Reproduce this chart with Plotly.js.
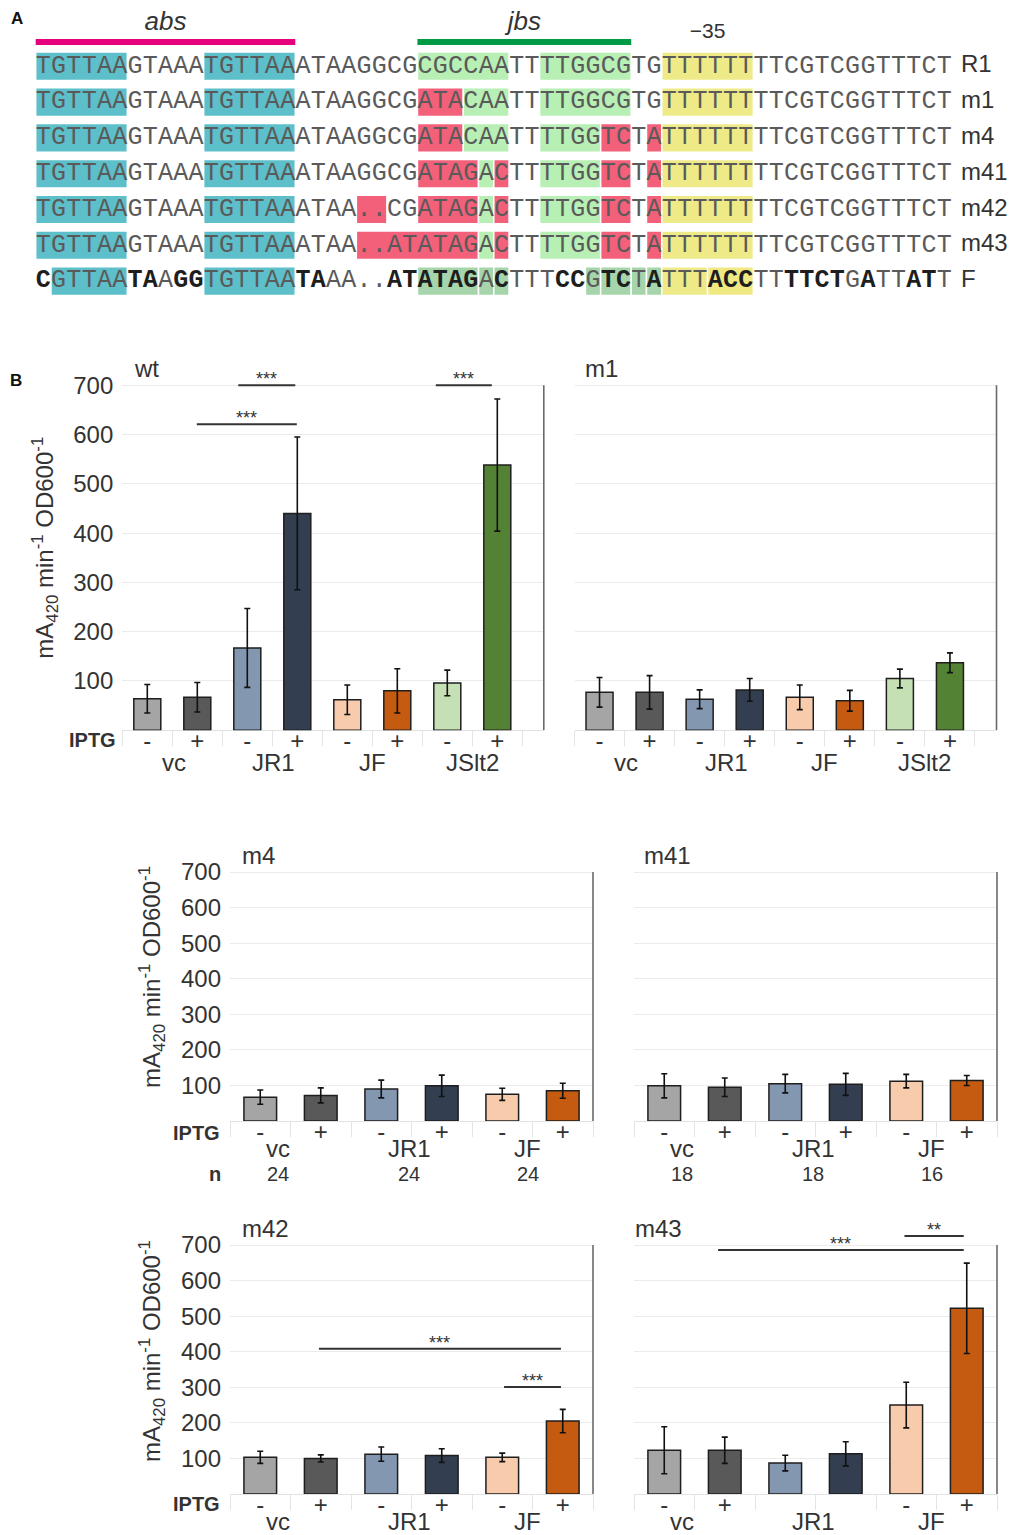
<!DOCTYPE html>
<html><head><meta charset="utf-8">
<script src="https://cdn.plot.ly/plotly-3.0.1.min.js"></script>
<style>html,body{margin:0;padding:0;background:#fff}</style>
</head><body>
<div id="chart" style="width:1016px;height:1535px"></div>
<script>
// ---------------- Panel A data ----------------
const seqNames = ['R1','m1','m4','m41','m42','m43','F'];
const sequences = [
 'TGTTAAGTAAATGTTAAATAAGGCGCGCCAATTTTGGCGTGTTTTTTTTCGTCGGTTTCT',
 'TGTTAAGTAAATGTTAAATAAGGCGATACAATTTTGGCGTGTTTTTTTTCGTCGGTTTCT',
 'TGTTAAGTAAATGTTAAATAAGGCGATACAATTTTGGTCTATTTTTTTTCGTCGGTTTCT',
 'TGTTAAGTAAATGTTAAATAAGGCGATAGACTTTTGGTCTATTTTTTTTCGTCGGTTTCT',
 'TGTTAAGTAAATGTTAAATAA..CGATAGACTTTTGGTCTATTTTTTTTCGTCGGTTTCT',
 'TGTTAAGTAAATGTTAAATAA..ATATAGACTTTTGGTCTATTTTTTTTCGTCGGTTTCT',
 'CGTTAATAAGGTGTTAATAAA..ATATAGACTTTCCGTCTATTTACCTTTTCTGATTATT'
];
// highlight class per base (c=abs box, g=jbs box, r=mutated, y=-35, d/D=F jbs match, Y=F -35 match)
const highlightCodes = [
 'cccccc.....cccccc........gggggg..gggggg..yyyyyy.............',
 'cccccc.....cccccc........rrrggg..gggggg..yyyyyy.............',
 'cccccc.....cccccc........rrrggg..ggggrr.ryyyyyy.............',
 'cccccc.....cccccc........rrrrgr..ggggrr.ryyyyyy.............',
 'cccccc.....cccccc....rr..rrrrgr..ggggrr.ryyyyyy.............',
 'cccccc.....cccccc....rrrrrrrrgr..ggggrr.ryyyyyy.............',
 '.ccccc.....cccccc........ddddDd.....DddDdyyyYYY.............'
];
// bold bases in F (identical to consensus)
const boldMaskF = 'b.....bb.bb......bb....bbbbbb.b...bb.bb.b...bbb..bbbb.b..bb.';
const featureNames = ['abs','jbs'];
const featureStart = [1, 26];
const featureEnd = [17, 39];
const promoterLabel = '\u221235';
const promoterStart = 42;
const promoterEnd = 47;

// ---------------- Panel B data ----------------
const groups4 = ['vc','JR1','JF','JSlt2'];
const groups3 = ['vc','JR1','JF'];
const iptg8 = ['-','+','-','+','-','+','-','+'];
const iptg6 = ['-','+','-','+','-','+'];
const iptgM43 = ['-','+','','','-','+'];
const wtMean  = [64, 67, 167, 440, 62, 80, 96, 538];
const wtErr   = [29, 30, 80, 155, 30, 45, 26, 134];
const m1Mean  = [77, 77, 63, 82, 67, 60, 105, 137];
const m1Err   = [30, 34, 19, 23, 25, 21, 19, 20];
const m4Mean  = [67, 72, 90, 99, 75, 85];
const m4Err   = [20, 21, 25, 30, 17, 21];
const m41Mean = [99, 95, 105, 103, 112, 114];
const m41Err  = [34, 26, 26, 31, 19, 14];
const m42Mean = [103, 100, 112, 108, 103, 205];
const m42Err  = [17, 10, 20, 19, 12, 33];
const m43Mean = [123, 123, 87, 113, 250, 522];
const m43Err  = [66, 37, 22, 34, 64, 127];
const nM4  = [24, 24, 24];
const nM41 = [18, 18, 16];
// significance brackets: [from, to, level, label]
const wtSig  = [[1.82, 2.96, 700, '***'], [0.99, 2.99, 621, '***'], [5.77, 6.89, 700, '***']];
const m42Sig = [[0.97, 4.97, 408, '***'], [4.03, 4.97, 301, '***']];
const m43Sig = [[0.89, 4.95, 686, '***'], [3.97, 4.95, 725, '**']];
const yTicks = [100, 200, 300, 400, 500, 600, 700];

// ---------------- styles / layout helpers ----------------
const W = 1016, H = 1535;
const px = v => v / W;
const py = v => 1 - v / H;
const barColors = ['#a5a5a5','#595959','#8497b0','#333f50','#f8cbad','#c55a11','#c5e0b4','#548235'];
const hlColors = {c:'#5dbfc9', g:'#b7efb5', r:'#f2607a', y:'#eeea88', d:'#a6d5ab', D:'#a6d5ab', Y:'#f0e882'};
const SANS = 'Liberation Sans, Arial, sans-serif';
const MONO = 'Liberation Mono, Courier New, monospace';
const TXT = '#333333';
const YMAX = 745;

const traces = [];
const shapes = [];
const annotations = [];

// ---------------- Panel A ----------------
{
  const hy = [], hx = [], hb = [], hc = [];
  highlightCodes.forEach((codes, r) => {
    let i = 0;
    while (i < codes.length) {
      const c = codes[i];
      if (c === '.') { i++; continue; }
      let j = i;
      while (j < codes.length && codes[j] === c) j++;
      hy.push(r); hb.push(i + 0.5); hx.push(j - i); hc.push(hlColors[c]);
      i = j;
    }
  });
  traces.push({type:'bar', orientation:'h', xaxis:'x7', yaxis:'y7', y:hy, x:hx, base:hb,
    width:0.8, marker:{color:hc, line:{color:'#ffffff', width:1.5}}, hoverinfo:'skip'});
  // feature bars
  traces.push({type:'bar', orientation:'h', xaxis:'x7', yaxis:'y7',
    y:featureNames.map(() => -0.68), base:featureStart.map(s => s - 0.5),
    x:featureStart.map((s, k) => featureEnd[k] - s + 1), width:0.17,
    marker:{color:['#e5007d','#009a44'], line:{width:0}}, hoverinfo:'skip'});
  traces.push({type:'scatter', mode:'text', xaxis:'x7', yaxis:'y7',
    x:featureStart.map((s, k) => (s + featureEnd[k]) / 2), y:featureNames.map(() => -1.2),
    text:featureNames.map(n => '<i>' + n + '</i>'), textposition:'middle center',
    textfont:{family:SANS, size:26, color:TXT}, hoverinfo:'skip', cliponaxis:false});
  traces.push({type:'scatter', mode:'text', xaxis:'x7', yaxis:'y7',
    x:[(promoterStart + promoterEnd) / 2], y:[-0.93], text:[promoterLabel],
    textposition:'middle center', textfont:{family:SANS, size:21, color:TXT}, hoverinfo:'skip', cliponaxis:false});
  // bases
  const cx = [], cy = [], ct = [], cc = [];
  sequences.forEach((s, r) => {
    for (let i = 0; i < s.length; i++) {
      const bold = (r === sequences.length - 1) && boldMaskF[i] === 'b';
      cx.push(i + 1); cy.push(r);
      ct.push(bold ? '<b>' + s[i] + '</b>' : s[i]);
      cc.push(bold ? '#1e1e1e' : '#5a5a5a');
    }
  });
  traces.push({type:'scatter', mode:'text', xaxis:'x7', yaxis:'y7', x:cx, y:cy, text:ct,
    textposition:'middle center', textfont:{family:MONO, size:25, color:cc}, hoverinfo:'skip', cliponaxis:false});
  traces.push({type:'scatter', mode:'text', xaxis:'x7', yaxis:'y7',
    x:seqNames.map(() => 61.1), y:seqNames.map((_, r) => r), text:seqNames,
    textposition:'middle right', textfont:{family:SANS, size:24, color:TXT}, hoverinfo:'skip', cliponaxis:false});
}

// ---------------- Panel B ----------------
const panels = [
  {k:'',  title:'wt',  mean:wtMean,  err:wtErr,  iptg:iptg8,  groups:groups4, gx:[0.53,2.53,4.5,6.5], xr:[-0.5,7.93], xd:[122.3,543.8], base:730.3, sc:0.493,  ylab:true,  sig:wtSig,  n:null, tx:10, gy:-32, yc:371, ytx:-77, ipx:-4, ipy:-10},
  {k:'2', title:'m1',  mean:m1Mean,  err:m1Err,  iptg:iptg8,  groups:groups4, gx:[0.53,2.53,4.5,6.5], xr:[-0.5,7.93], xd:[574.5,996.5], base:730.3, sc:0.493,  ylab:false, sig:[],     n:null, tx:8,  gy:-32},
  {k:'3', title:'m4',  mean:m4Mean,  err:m4Err,  iptg:iptg6,  groups:groups3, gx:[0.29,2.46,4.42], xr:[-0.5,5.5], xd:[230,593], base:1121, sc:0.3557, ylab:true,  sig:[],     n:nM4,  tx:10, gy:-27, yc:405, ytx:-78, ipx:-8, ipy:-12},
  {k:'4', title:'m41', mean:m41Mean, err:m41Err, iptg:iptg6,  groups:groups3, gx:[0.29,2.46,4.42], xr:[-0.5,5.5], xd:[634,997], base:1121, sc:0.3557, ylab:false, sig:[],     n:nM41, tx:8,  gy:-27},
  {k:'5', title:'m42', mean:m42Mean, err:m42Err, iptg:iptg6,  groups:groups3, gx:[0.29,2.46,4.42], xr:[-0.5,5.5], xd:[230,593], base:1494, sc:0.3557, ylab:true,  sig:m42Sig, n:null, tx:10, gy:-27, yc:402, ytx:-78, ipx:-8, ipy:-10},
  {k:'6', title:'m43', mean:m43Mean, err:m43Err, iptg:iptgM43,groups:groups3, gx:[0.29,2.46,4.42], xr:[-0.5,5.5], xd:[634,997], base:1494, sc:0.3557, ylab:false, sig:m43Sig, n:null, tx:-1, gy:-27}
];

const layout = {
  width: W, height: H, margin:{l:0, r:0, t:0, b:0, pad:0},
  paper_bgcolor:'#ffffff', plot_bgcolor:'#ffffff', showlegend:false, barmode:'overlay',
  font:{family:SANS, color:TXT},
  xaxis7:{domain:[0,1], range:[-1.838, 64.70], visible:false, fixedrange:true},
  yaxis7:{domain:[py(300), 1], range:[6.528, -1.852], visible:false, fixedrange:true}
};

panels.forEach(p => {
  const xa = 'x' + p.k, ya = 'y' + p.k;
  const idx = p.mean.map((_, i) => i);
  traces.push({type:'bar', xaxis:xa, yaxis:ya, x:idx, y:p.mean, width:0.54,
    marker:{color:barColors.slice(0, p.mean.length), line:{color:'#1e1e1e', width:1.5}},
    error_y:{type:'data', array:p.err, visible:true, color:'#111111', thickness:1.6, width:3},
    hoverinfo:'skip'});
  const bounds = [];
  for (let b = -0.5; b <= p.mean.length - 0.5 + 1e-9; b += 1) bounds.push(b);
  layout['xaxis' + p.k] = {
    domain:[px(p.xd[0]), px(p.xd[1])], range:p.xr, anchor:ya,
    tickmode:'array', tickvals:idx, ticktext:p.iptg, ticks:'', ticklabelstandoff:-6,
    tickfont:{family:SANS, size:24, color:TXT},
    showgrid:false, zeroline:false, showline:false, fixedrange:true,
    minor:{tickmode:'array', tickvals:bounds, ticks:'outside', ticklen:15, tickwidth:1, tickcolor:'#e4e4e4', showgrid:false}
  };
  layout['yaxis' + p.k] = {
    domain:[py(p.base), py(p.base - YMAX * p.sc)], range:[0, YMAX], anchor:xa,
    tickmode:'array', tickvals:yTicks, ticktext:yTicks.map(String), showticklabels:p.ylab,
    ticks:'', ticklabelstandoff:8, tickfont:{family:SANS, size:24, color:TXT},
    showgrid:true, gridcolor:'#ebebeb', gridwidth:1,
    zeroline:true, zerolinecolor:'#e2e2e2', zerolinewidth:1, showline:false, fixedrange:true
  };
  // right panel border
  shapes.push({type:'line', xref:xa + ' domain', yref:ya, x0:1, x1:1, y0:0, y1:700,
    line:{color:'#6a6a6a', width:1.6}});
  // title
  annotations.push({xref:xa + ' domain', yref:ya, x:0, y:700, xanchor:'left', yanchor:'bottom',
    xshift:p.tx, yshift:1, text:p.title, showarrow:false, font:{family:SANS, size:24, color:TXT}});
  // group labels
  p.groups.forEach((g, i) => annotations.push({xref:xa, yref:ya + ' domain', x:p.gx[i], y:0,
    yanchor:'middle', yshift:p.gy, text:g, showarrow:false, font:{family:SANS, size:24, color:TXT}}));
  if (p.n) {
    p.n.forEach((n, i) => annotations.push({xref:xa, yref:ya + ' domain', x:p.gx[i], y:0,
      yanchor:'middle', yshift:-53, text:String(n), showarrow:false, font:{family:SANS, size:20, color:TXT}}));
    if (p.ylab) annotations.push({xref:xa + ' domain', yref:ya + ' domain', x:0, y:0, xanchor:'right',
      yanchor:'middle', xshift:-7, yshift:-53, text:'<b>n</b>', showarrow:false, font:{family:SANS, size:20, color:TXT}});
  }
  if (p.ylab) {
    annotations.push({xref:xa + ' domain', yref:ya + ' domain', x:0, y:0, xanchor:'right', yanchor:'middle',
      xshift:p.ipx, yshift:p.ipy, text:'<b>IPTG</b>', showarrow:false, font:{family:SANS, size:20, color:TXT}});
    annotations.push({xref:xa + ' domain', yref:ya, x:0, y:p.yc, xanchor:'center', yanchor:'middle',
      xshift:p.ytx, textangle:-90, text:'mA<sub>420</sub> min<sup>-1</sup> OD600<sup>-1</sup>',
      showarrow:false, font:{family:SANS, size:24, color:TXT}});
  }
  p.sig.forEach(s => {
    shapes.push({type:'line', xref:xa, yref:ya, x0:s[0], x1:s[1], y0:s[2], y1:s[2],
      line:{color:'#333333', width:2}});
    annotations.push({xref:xa, yref:ya, x:(s[0] + s[1]) / 2, y:s[2], yanchor:'bottom', yshift:-6,
      text:s[3], showarrow:false, font:{family:SANS, size:18, color:TXT}});
  });
});

annotations.push({xref:'paper', yref:'paper', x:px(17), y:py(18), xanchor:'center', yanchor:'middle',
  text:'<b>A</b>', showarrow:false, font:{family:SANS, size:17, color:'#111'}});
annotations.push({xref:'paper', yref:'paper', x:px(16), y:py(381), xanchor:'center', yanchor:'middle',
  text:'<b>B</b>', showarrow:false, font:{family:SANS, size:17, color:'#111'}});

layout.shapes = shapes;
layout.annotations = annotations;

Plotly.newPlot('chart', traces, layout, {staticPlot:true, displayModeBar:false});
</script>
</body></html>
